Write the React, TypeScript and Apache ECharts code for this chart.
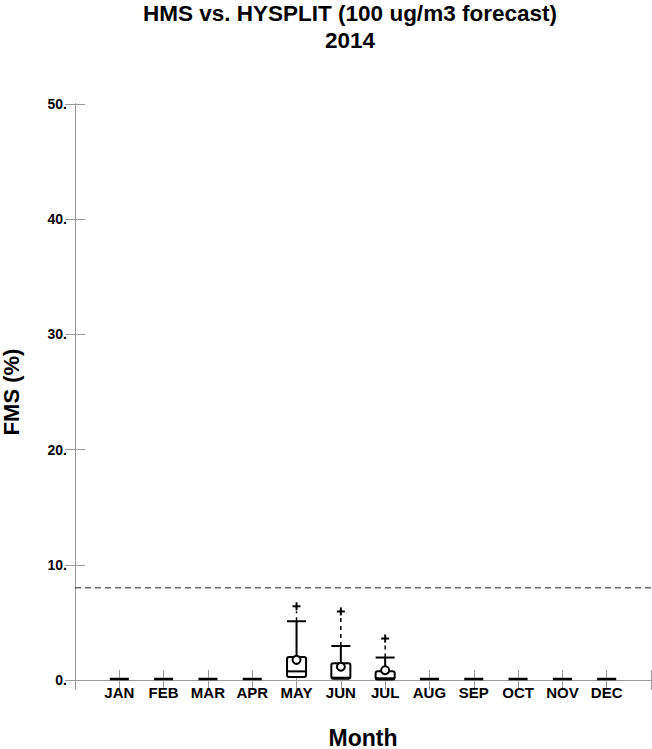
import React, { useEffect, useRef } from "react";
import * as echarts from "echarts";

const months = ["JAN", "FEB", "MAR", "APR", "MAY", "JUN", "JUL", "AUG", "SEP", "OCT", "NOV", "DEC"];
const q1 = [0, 0, 0, 0, 0.25, 0.1, 0.05, 0, 0, 0, 0, 0];
const median = [0, 0, 0, 0, 0.75, 0.2, 0.15, 0, 0, 0, 0, 0];
const q3 = [0, 0, 0, 0, 2.0, 1.45, 0.75, 0, 0, 0, 0, 0];
const mean = [0, 0, 0, 0, 1.75, 1.15, 0.85, 0, 0, 0, 0, 0];
const whiskerHigh = [0, 0, 0, 0, 5.1, 2.95, 1.95, 0, 0, 0, 0, 0];
const maxValue = [0, 0, 0, 0, 6.4, 5.95, 3.6, 0, 0, 0, 0, 0];
const threshold = 8;
const yTicks = [0, 10, 20, 30, 40, 50];

const FONT = "'Liberation Sans', Arial, Helvetica, sans-serif";
const AXIS_GRAY = "#9a9a9a";

export default function App() {
  const ref = useRef<HTMLDivElement>(null);
  useEffect(() => {
    if (!ref.current) return;
    const chart = echarts.init(ref.current, null, { renderer: "svg" });
    const boxData = months.map((_, i) => [i + 1, q1[i], median[i], q3[i], mean[i], whiskerHigh[i], maxValue[i]]);

    const renderItem = (params: any, api: any) => {
      const x = api.value(0);
      const vq1 = api.value(1), vmed = api.value(2), vq3 = api.value(3);
      const vmean = api.value(4), vwh = api.value(5), vmax = api.value(6);
      const w = api.size([0.43, 0])[0];
      const pQ1 = api.coord([x, vq1]);
      const pMed = api.coord([x, vmed]);
      const pQ3 = api.coord([x, vq3]);
      const pMean = api.coord([x, vmean]);
      const pWh = api.coord([x, vwh]);
      const pMax = api.coord([x, vmax]);
      const cx = pQ1[0];
      const half = w / 2;
      const stroke = { stroke: "#000", lineWidth: 2, fill: "none" };
      const children: any[] = [];
      if (vq3 === 0 && vmax === 0) {
        children.push({ type: "line", shape: { x1: cx - half, y1: pQ1[1] - 1, x2: cx + half, y2: pQ1[1] - 1 }, style: { stroke: "#000", lineWidth: 2.5 } });
        return { type: "group", children };
      }
      children.push({ type: "rect", shape: { x: cx - half, y: pQ3[1], width: w, height: pQ1[1] - pQ3[1], r: 2 }, style: { ...stroke, fill: "#fff" } });
      children.push({ type: "line", shape: { x1: cx - half, y1: pMed[1], x2: cx + half, y2: pMed[1] }, style: stroke });
      children.push({ type: "line", shape: { x1: cx, y1: pQ3[1], x2: cx, y2: pWh[1] }, style: stroke });
      children.push({ type: "line", shape: { x1: cx - half, y1: pWh[1], x2: cx + half, y2: pWh[1] }, style: stroke });
      children.push({ type: "line", shape: { x1: cx, y1: pWh[1], x2: cx, y2: pMax[1] + 5 }, style: { stroke: "#000", lineWidth: 1.5, lineDash: [4, 4] } });
      children.push({ type: "line", shape: { x1: cx - 4, y1: pMax[1], x2: cx + 4, y2: pMax[1] }, style: stroke });
      children.push({ type: "line", shape: { x1: cx, y1: pMax[1] - 4, x2: cx, y2: pMax[1] + 4 }, style: stroke });
      children.push({ type: "circle", shape: { cx: pMean[0], cy: pMean[1], r: 4 }, style: { stroke: "#000", lineWidth: 2, fill: "#fff" } });
      return { type: "group", children };
    };

    const labelStyle = { fontFamily: FONT, fontWeight: "bold" as const, fontSize: 14, color: "#000" };

    chart.setOption({
      animation: false,
      backgroundColor: "#fff",
      title: {
        text: "HMS vs. HYSPLIT (100 ug/m3 forecast)\n2014",
        left: 350,
        textAlign: "center",
        top: 0,
        padding: 0,
        textStyle: { fontFamily: FONT, fontWeight: "bold", fontSize: 22.5, lineHeight: 27, color: "#000" },
      },
      grid: { left: 75, right: 1, top: 104, bottom: 69, containLabel: false, outerBoundsMode: "none" },
      xAxis: [
        {
          type: "value", min: 0, max: 13, interval: 1, position: "bottom",
          name: "Month", nameLocation: "middle", nameGap: 46,
          nameTextStyle: { fontFamily: FONT, fontWeight: "bold", fontSize: 23, color: "#000" },
          axisLine: { show: true, lineStyle: { color: AXIS_GRAY, width: 1 } },
          axisTick: { show: true, inside: true, length: 10, lineStyle: { color: AXIS_GRAY } },
          axisLabel: { ...labelStyle, fontSize: 15, margin: 5, formatter: (v: number) => months[v - 1] || "" },
          splitLine: { show: false },
        },
        {
          type: "value", min: 0, max: 13, interval: 1, position: "top",
          axisLine: { show: true, lineStyle: { color: AXIS_GRAY, width: 1 } },
          axisTick: { show: true, inside: true, length: 10, lineStyle: { color: AXIS_GRAY } },
          axisLabel: { show: false },
          splitLine: { show: false },
        },
      ],
      yAxis: [
        {
          type: "value", min: 0, max: 50, interval: 10, position: "left",
          name: "FMS (%)", nameLocation: "middle", nameGap: 53, nameRotate: 90,
          nameTextStyle: { fontFamily: FONT, fontWeight: "bold", fontSize: 22, color: "#000" },
          axisLine: { show: true, lineStyle: { color: AXIS_GRAY, width: 1 } },
          axisTick: { show: true, inside: true, length: 10, lineStyle: { color: AXIS_GRAY } },
          axisLabel: { ...labelStyle, margin: 8, formatter: (v: number) => (yTicks.includes(v) ? v + "." : "") },
          splitLine: { show: false },
        },
        {
          type: "value", min: 0, max: 50, interval: 10, position: "right",
          axisLine: { show: true, lineStyle: { color: AXIS_GRAY, width: 1 } },
          axisTick: { show: true, inside: true, length: 10, lineStyle: { color: AXIS_GRAY } },
          axisLabel: { show: false },
          splitLine: { show: false },
        },
      ],
      series: [
        {
          type: "line",
          data: [[0, threshold], [13, threshold]],
          symbol: "none",
          lineStyle: { color: "#222", width: 1, type: [6, 4] },
          silent: true,
          z: 1,
        },
        {
          type: "custom",
          renderItem,
          data: boxData,
          encode: { x: 0, y: [1, 2, 3, 4, 5, 6] },
          clip: false,
          z: 3,
        },
      ],
    });
    return () => chart.dispose();
  }, []);
  return <div ref={ref} style={{ position: "fixed", left: 0, top: 0, width: 652, height: 749 }} />;
}
